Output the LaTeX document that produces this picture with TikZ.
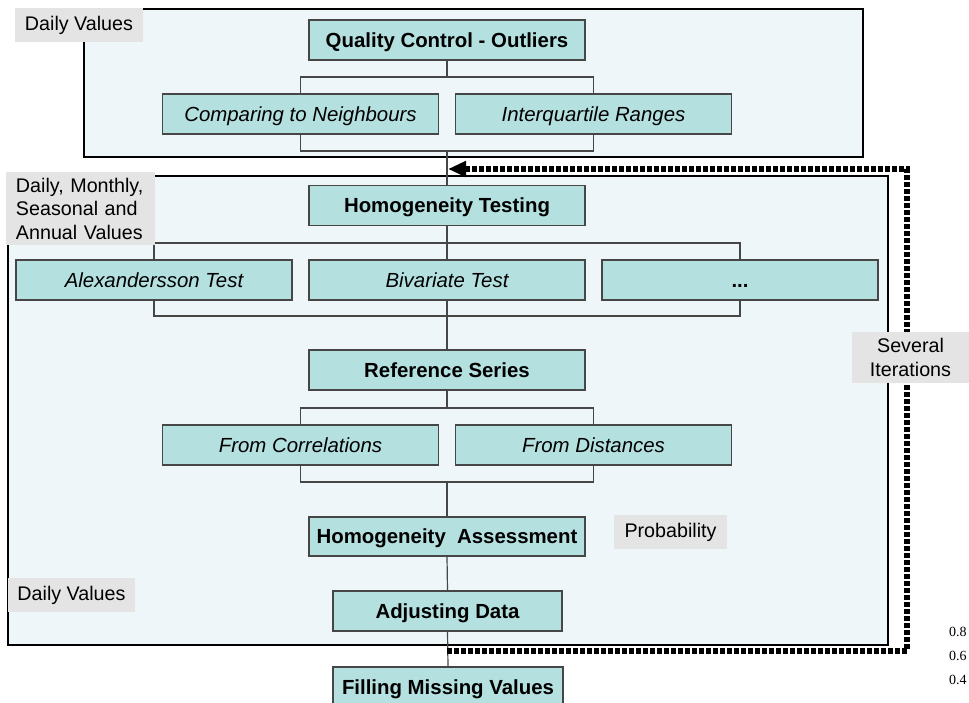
\documentclass[tikz,border=0pt]{standalone}
\usepackage{fontspec}
\setmainfont{Liberation Sans}
\newfontfamily\numfont{Liberation Serif}
\usetikzlibrary{arrows.meta}
\definecolor{boxteal}{RGB}{180,224,224}
\definecolor{panelblue}{RGB}{238,246,249}
\definecolor{taggray}{RGB}{228,228,228}
\definecolor{edgegray}{RGB}{70,70,70}
\begin{document}
\begin{tikzpicture}[x=1pt,y=-1pt,
  panel/.style={draw=black, line width=1.6pt, fill=panelblue},
  mainbox/.style={draw=edgegray, line width=1.2pt, fill=boxteal, minimum width=276pt,
    minimum height=40pt, inner sep=0pt, text height=15pt, text depth=0.6pt,
    font=\fontsize{20.4}{24}\selectfont\bfseries},
  subbox/.style={mainbox, font=\fontsize{20.4}{24}\selectfont\itshape},
  tag/.style={fill=taggray, inner sep=0pt, font=\fontsize{19.7}{23.5}\selectfont},
  link/.style={draw=edgegray, line width=1.2pt},
  loopline/.style={line width=5.5pt, dash pattern=on 5pt off 2pt,
    -{Triangle[length=18pt,width=15pt]}},
  num/.style={anchor=west, inner sep=0pt, font=\numfont\fontsize{14}{16}\selectfont}]
\path[use as bounding box, clip] (0,0) rectangle (969,702);

\draw [panel] (84,9) rectangle (863,157);
\draw [panel] (8,176) rectangle (888,645);

% outliers
\node [mainbox] (qc) at (447,40) {Quality Control - Outliers};
\node [subbox] (cmp) at (300.5,114) {Comparing to Neighbours};
\node [subbox] (iqr) at (593.5,114) {Interquartile Ranges};
\coordinate (qcb) at (447,77);
\coordinate (qcj) at (447,151);
\draw [link] (qc.south) -- (qcb);
\draw [link] (cmp.north) |- (qcb) -| (iqr.north);
\draw [link] (cmp.south) |- (qcj) -| (iqr.south);

% homogeneity
\node [mainbox] (ht) at (447,205.5) {Homogeneity Testing};
\node [subbox] (alex) at (154,280) {Alexandersson Test};
\node [subbox] (biv) at (447,280) {Bivariate Test};
\node [mainbox] (dots) at (740,280) {...};
\coordinate (htb) at (447,243);
\coordinate (htj) at (447,316);
\draw [link] (qcj) -- (ht.north);
\draw [link] (ht.south) -- (biv.north);
\draw [link] (alex.north) |- (htb) -| (dots.north);
\draw [link] (alex.south) |- (htj) -| (dots.south);

% reference series
\node [mainbox] (ref) at (447,370) {Reference Series};
\node [subbox] (corr) at (300.5,445) {From Correlations};
\node [subbox] (dist) at (593.5,445) {From Distances};
\coordinate (refb) at (447,408);
\coordinate (refj) at (447,482);
\draw [link] (biv.south) -- (ref.north);
\draw [link] (ref.south) -- (refb);
\draw [link] (corr.north) |- (refb) -| (dist.north);
\draw [link] (corr.south) |- (refj) -| (dist.south);

\node [mainbox, minimum height=39pt] (ha) at (447,536.5) {Homogeneity~~Assessment};
\node [mainbox, minimum width=229pt] (adj) at (447.5,611) {Adjusting Data};
\node [mainbox, minimum width=230pt] (fill) at (448,687) {Filling Missing Values};
\draw [link] (refj) -- (ha.north);
\draw [link] (ha.south) -- (adj.north);
\draw [link] (adj.south) -- (fill.north);

% iterations
\coordinate (loopstart) at (447,651);
\coordinate (loopcorner) at (907,169);
\coordinate (loopend) at (448,169);
\draw [loopline] (loopstart) -| (loopcorner) -- (loopend);

\node [tag, minimum width=128pt, minimum height=34pt] (dv1) at (79,25) {Daily Values};
\node [tag, minimum width=149pt, minimum height=73pt, text width=129pt, align=left] (dmsa) at (80.5,208.5)
  {Daily, Monthly,\\Seasonal and\\Annual Values};
\node [tag, minimum width=127pt, minimum height=34pt] (dv2) at (71.5,595) {Daily Values};
\node [tag, minimum width=113pt, minimum height=34pt] (prob) at (670.5,532) {Probability};
\node [tag, minimum width=117pt, minimum height=51pt, align=center] (iter) at (910.5,357.5)
  {Several\\Iterations};

\node [num] (n8) at (949,632) {0.8};
\node [num] (n6) at (949,656) {0.6};
\node [num] (n4) at (949,680) {0.4};
\end{tikzpicture}
\end{document}
